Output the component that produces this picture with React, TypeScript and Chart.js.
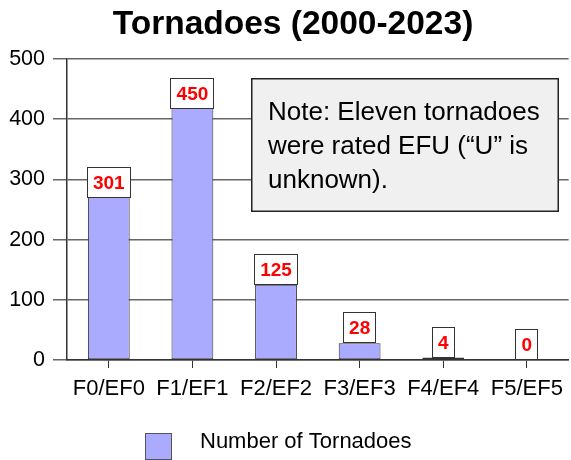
import React, { useEffect, useRef } from 'react';
import { Chart, registerables } from 'chart.js';

Chart.register(...registerables);

const chartTitle = 'Tornadoes (2000-2023)';
const categories = ['F0/EF0', 'F1/EF1', 'F2/EF2', 'F3/EF3', 'F4/EF4', 'F5/EF5'];
const tornadoCounts = [301, 450, 125, 28, 4, 0];
const seriesName = 'Number of Tornadoes';
const yMin = 0;
const yMax = 500;
const yStep = 100;
const noteLines = ['Note: Eleven tornadoes', 'were rated EFU (\u201CU\u201D is', 'unknown).'];

const FONT = '"Liberation Sans", Arial, Helvetica, sans-serif';
const BAR_FILL = '#aaaaff';
const DARK = '#333333';

const titlePlugin = {
  id: 'customTitle',
  afterDraw(chart: any) {
    const ctx = chart.ctx;
    ctx.save();
    ctx.font = `bold 33.5px ${FONT}`;
    ctx.fillStyle = '#000';
    ctx.textAlign = 'center';
    ctx.textBaseline = 'alphabetic';
    ctx.fillText(chartTitle, 293, 34);
    ctx.restore();
  },
};

const valueLabelPlugin = {
  id: 'valueLabels',
  afterDatasetsDraw(chart: any) {
    const ctx = chart.ctx;
    const meta = chart.getDatasetMeta(0);
    const base = chart.scales.y.getPixelForValue(0);
    ctx.save();
    ctx.font = `bold 19px ${FONT}`;
    meta.data.forEach((bar: any, i: number) => {
      const v = tornadoCounts[i];
      const { x, y } = bar.getProps(['x', 'y'], true);
      const text = String(v);
      const tw = ctx.measureText(text).width;
      const w = Math.round(tw + 12);
      const h = 31;
      const barH = base - y;
      const top = Math.round(barH > 120 ? y + 4 - h / 2 : y - h);
      const left = Math.round(x - w / 2);
      ctx.fillStyle = '#ffffff';
      ctx.fillRect(left, top, w, h);
      ctx.strokeStyle = DARK;
      ctx.lineWidth = 1;
      ctx.strokeRect(left + 0.5, top + 0.5, w - 1, h - 1);
      ctx.fillStyle = '#ff0000';
      ctx.textAlign = 'center';
      ctx.textBaseline = 'middle';
      ctx.fillText(text, x, top + h / 2 + 1);
    });
    ctx.restore();
  },
};

const notePlugin = {
  id: 'noteBox',
  afterDraw(chart: any) {
    const ctx = chart.ctx;
    const area = chart.chartArea;
    const left = area.left + 184;
    const top = area.top + 19;
    const w = 308;
    const h = 134;
    ctx.save();
    ctx.fillStyle = '#f0f0f0';
    ctx.fillRect(left, top, w, h);
    ctx.strokeStyle = '#222';
    ctx.lineWidth = 1.5;
    ctx.strokeRect(left + 0.75, top + 0.75, w - 1.5, h - 1.5);
    ctx.fillStyle = '#000';
    ctx.font = `26px ${FONT}`;
    ctx.textAlign = 'left';
    ctx.textBaseline = 'alphabetic';
    noteLines.forEach((line, i) => {
      ctx.fillText(line, left + 17, top + 42 + i * 34);
    });
    ctx.restore();
  },
};

const legendPlugin = {
  id: 'customLegend',
  afterDraw(chart: any) {
    const ctx = chart.ctx;
    ctx.save();
    const bx = 145;
    const by = 433;
    ctx.fillStyle = BAR_FILL;
    ctx.fillRect(bx, by, 27, 27);
    ctx.strokeStyle = '#555';
    ctx.lineWidth = 1;
    ctx.strokeRect(bx + 0.5, by + 0.5, 26, 26);
    ctx.fillStyle = '#000';
    ctx.font = `22px ${FONT}`;
    ctx.textAlign = 'left';
    ctx.textBaseline = 'alphabetic';
    ctx.fillText(seriesName, 200, 448);
    ctx.restore();
  },
};

export default function App() {
  const canvasRef = useRef<HTMLCanvasElement | null>(null);

  useEffect(() => {
    if (!canvasRef.current) return;
    const chart = new Chart(canvasRef.current, {
      type: 'bar',
      data: {
        labels: categories,
        datasets: [
          {
            label: seriesName,
            data: tornadoCounts,
            backgroundColor: BAR_FILL,
            borderColor: DARK,
            borderWidth: 1,
            borderSkipped: false,
            barPercentage: 0.5,
            categoryPercentage: 1,
          },
        ],
      },
      options: {
        responsive: false,
        maintainAspectRatio: false,
        devicePixelRatio: 1,
        animation: false,
        layout: { padding: { top: 59, right: 1, left: 0, bottom: 0 } },
        plugins: {
          legend: { display: false },
          title: { display: false },
          tooltip: { enabled: false },
        },
        scales: {
          x: {
            afterFit(scale: any) {
              scale.height = 100;
            },
            grid: {
              display: true,
              drawOnChartArea: false,
              drawTicks: true,
              tickLength: 8,
              offset: false,
              color: DARK,
              lineWidth: 1,
            },
            border: { display: true, color: DARK, width: 1.5 },
            ticks: {
              color: '#000',
              font: { family: FONT, size: 22 },
              padding: 8,
              maxRotation: 0,
              autoSkip: false,
            },
          },
          y: {
            min: yMin,
            max: yMax,
            afterFit(scale: any) {
              scale.width = 67;
            },
            grid: {
              color: '#666',
              lineWidth: 1.5,
              drawTicks: true,
              tickLength: 14,
            },
            border: { display: true, color: DARK, width: 1.5 },
            ticks: {
              stepSize: yStep,
              color: '#000',
              font: { family: FONT, size: 21.5 },
              padding: 8,
            },
          },
        },
      },
      plugins: [valueLabelPlugin, notePlugin, titlePlugin, legendPlugin],
    });
    return () => chart.destroy();
  }, []);

  return (
    <div style={{ position: 'absolute', left: 0, top: 0, width: 571, height: 460, background: '#fff' }}>
      <canvas ref={canvasRef} width={571} height={460} style={{ width: 571, height: 460, display: 'block' }} />
    </div>
  );
}
